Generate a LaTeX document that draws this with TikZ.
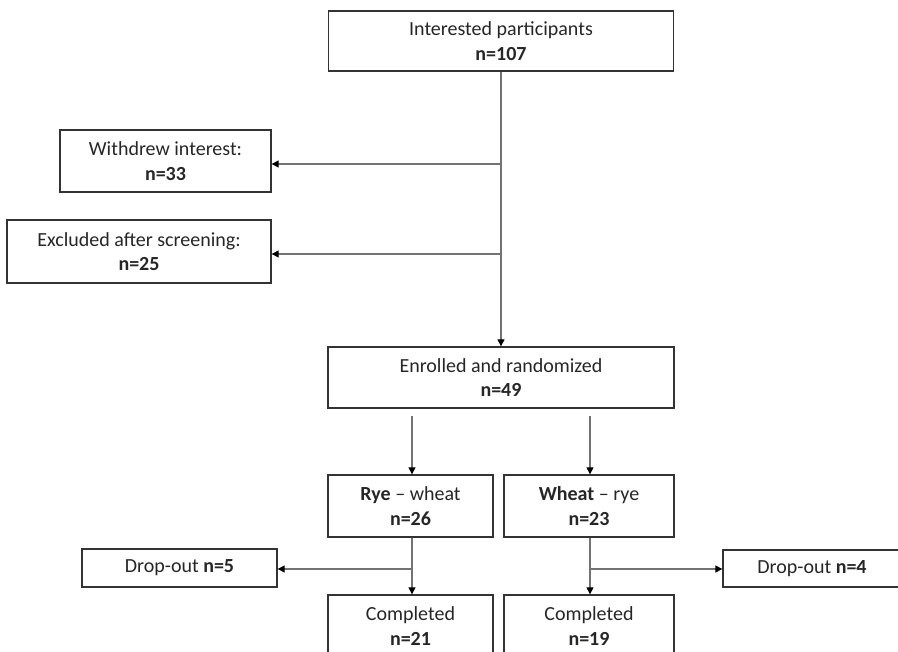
\documentclass[tikz,border=0pt]{standalone}
\usepackage{fontspec}
\setmainfont{Carlito}
\usetikzlibrary{arrows.meta}
\begin{document}
\begin{tikzpicture}[x=1pt,y=-1pt,
  box/.style={draw=black!80, line width=1.3pt, align=center, inner sep=0pt, text=black!85, font=\fontsize{20}{24.5}\selectfont},
  conn/.style={draw=black!55, line width=1.1pt, -{Triangle[length=7pt,width=7pt,color=black]}},
  plain/.style={draw=black!55, line width=1.1pt}]
\useasboundingbox (0,0) rectangle (898,652);
\clip (0,0) rectangle (898,652);
\node[box, minimum width=345pt, minimum height=60pt] (top) at (501,41) {Interested participants\\\textbf{n=107}};
\node[box, minimum width=211pt, minimum height=62pt] (wd) at (165.5,161) {Withdrew interest:\\\textbf{n=33}};
\node[box, minimum width=264pt, minimum height=63pt] (ex) at (139,251.5) {Excluded after screening:\\\textbf{n=25}};
\node[box, minimum width=346pt, minimum height=61pt] (en) at (501,377.5) {Enrolled and randomized\\\textbf{n=49}};
\node[box, minimum width=165pt, minimum height=62pt] (rye) at (410.5,506) {\textbf{Rye} -- wheat\\\textbf{n=26}};
\node[box, minimum width=170pt, minimum height=62pt] (wh) at (589,506) {\textbf{Wheat} -- rye\\\textbf{n=23}};
\node[box, minimum width=195pt, minimum height=38pt] (d5) at (179.5,568) {Drop-out \textbf{n=5}};
\node[box, minimum width=178pt, minimum height=37pt] (d4) at (812,568.5) {Drop-out \textbf{n=4}};
\node[box, minimum width=165pt, minimum height=62pt] (c1) at (410.5,626) {Completed\\\textbf{n=21}};
\node[box, minimum width=170pt, minimum height=62pt] (c2) at (589,626) {Completed\\\textbf{n=19}};
\coordinate (j1) at (501,164);
\coordinate (j2) at (501,254);
\coordinate (j3) at (412,569);
\coordinate (j4) at (590,569);
\draw[conn] (top.south) -- (en.north);
\draw[conn] (j1) -- (wd.east |- j1);
\draw[conn] (j2) -- (ex.east |- j2);
\draw[conn, shorten <=7pt] ([xshift=1.5pt]en.south -| rye.north) -- ([xshift=1.5pt]rye.north);
\draw[conn, shorten <=7pt] ([xshift=1pt]en.south -| wh.north) -- ([xshift=1pt]wh.north);
\draw[conn] ([xshift=1.5pt]rye.south) -- ([xshift=1.5pt]c1.north);
\draw[conn] ([xshift=1pt]wh.south) -- ([xshift=1pt]c2.north);
\draw[conn] (j3) -- (d5.east |- j3);
\draw[conn] (j4) -- (d4.west |- j4);
\end{tikzpicture}
\end{document}
